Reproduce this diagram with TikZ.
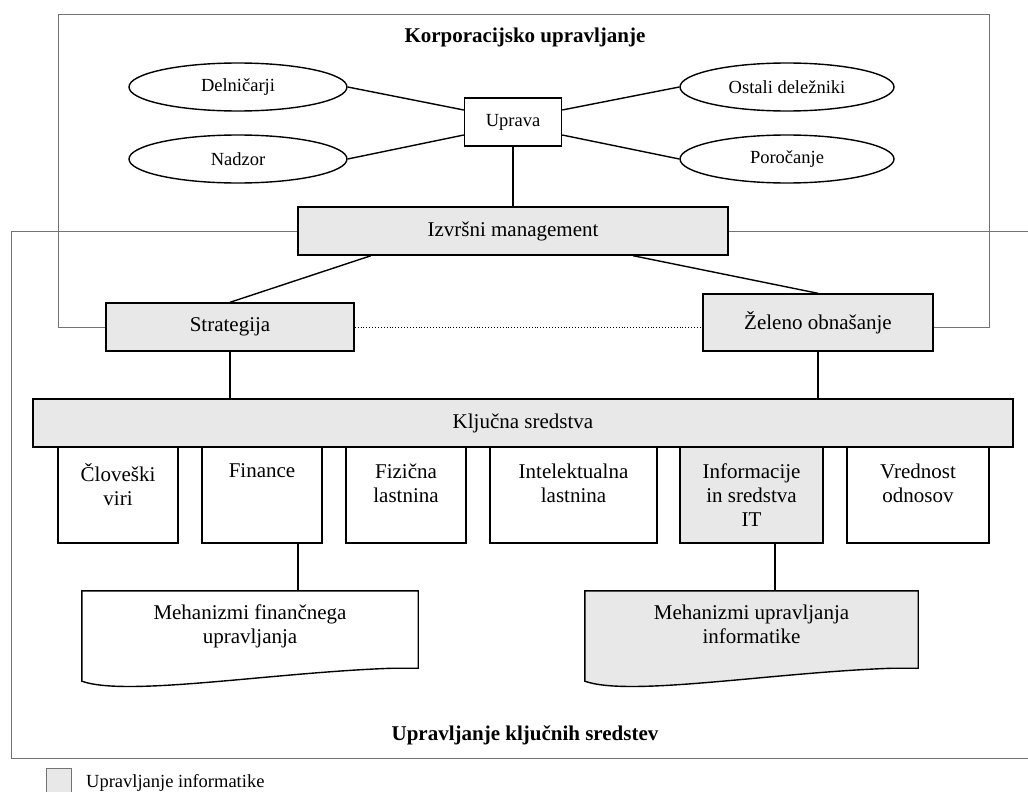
\documentclass[tikz,border=0pt]{standalone}
\usepackage{fontspec}
\setmainfont{Liberation Serif}
\usetikzlibrary{shapes,positioning,calc}
\definecolor{govgray}{RGB}{232,232,232}
\definecolor{framegray}{RGB}{115,115,115}

\newcommand{\smalltxt}{\fontsize{18.5}{22}\selectfont}
\newcommand{\bigtxt}{\fontsize{21}{24}\selectfont}

\begin{document}
\begin{tikzpicture}[x=1pt, y=-1pt,
    box/.style={draw, line width=1.4pt, rectangle, inner sep=0pt, font=\bigtxt},
    gbox/.style={box, fill=govgray},
    wbox/.style={draw, line width=1.4pt, fill=white, minimum width=97pt,
                 minimum height=48pt, inner sep=0pt, font=\smalltxt},
    oval/.style={draw, line width=1.4pt, ellipse, minimum width=218pt,
                 minimum height=48pt, inner sep=0pt, font=\smalltxt},
    asset/.style={box, minimum width=120pt, minimum height=96pt},
    assettxt/.style={font=\bigtxt, align=center, anchor=north, inner sep=0pt},
    docbox/.style={minimum width=336pt, minimum height=77pt, inner sep=0pt},
    doc/.style={line width=1.4pt},
    link/.style={line width=1.4pt},
    frame/.style={draw=framegray, line width=1pt},
    title/.style={font=\bigtxt\bfseries},
]
\useasboundingbox (0,0) rectangle (1028,792);

% corporate governance
\node[title] (kutitle) at (525,37) {Korporacijsko upravljanje};
\node[wbox] (upr) at (513,122) {Uprava};
\node[oval] (deln) at (238,87) {Delničarji};
\node[oval] (nadz) at (238,159) {Nadzor};
\node[oval, minimum width=214pt] (ostali) at (787,87) {Ostali deležniki};
\node[oval, minimum width=214pt] (poroc) at (787,159) {Poročanje};

\node[gbox, minimum width=430pt, minimum height=48pt] (izv) at (513,231)
    {Izvršni management};
\node[gbox, minimum width=248pt, minimum height=48pt] (strat) at (230,327)
    {Strategija};
\node[gbox, minimum width=230pt, minimum height=57pt] (zel) at (818,322.5)
    {Želeno obnašanje};
\node[gbox, minimum width=980pt, minimum height=48pt] (kljuc) at (523,423)
    {Ključna sredstva};

% key assets
\node[asset] (hr) at (118,495) {};
\node[asset] (fin) at (262,495) {};
\node[asset] (phys) at (406,495) {};
\node[asset, minimum width=167pt] (intel) at (573.5,495) {};
\node[asset, fill=govgray, minimum width=143pt] (info) at (751.5,495) {};
\node[asset, minimum width=142pt] (rel) at (918,495) {};

\node[assettxt] (hrtxt) at ([yshift=-17pt]hr.north) {Človeški\\viri};
\node[assettxt] (fintxt) at ([yshift=-17pt]fin.north) {Finance};
\node[assettxt] (phystxt) at ([yshift=-17pt]phys.north) {Fizična\\lastnina};
\node[assettxt] (inteltxt) at ([yshift=-17pt]intel.north) {Intelektualna\\lastnina};
\node[assettxt] (infotxt) at ([yshift=-17pt]info.north) {Informacije\\in sredstva\\IT};
\node[assettxt] (reltxt) at ([yshift=-17pt]rel.north) {Vrednost\\odnosov};

% mechanisms
\node[docbox] (finmeh) at (250,629.5) {};
\node[docbox, minimum width=333pt] (infmeh) at (751.5,629.5) {};
\draw[doc] (finmeh.south east) -- (finmeh.north east) -- (finmeh.north west)
    -- ([yshift=-13pt]finmeh.south west) .. controls +(45,16) and +(-120,4)
    .. ([xshift=-25pt]finmeh.south east) -- cycle;
\filldraw[doc, fill=govgray] (infmeh.south east) -- (infmeh.north east)
    -- (infmeh.north west) -- ([yshift=-13pt]infmeh.south west)
    .. controls +(45,16) and +(-120,4) .. ([xshift=-25pt]infmeh.south east) -- cycle;
\node[assettxt] (finmehtxt) at ([yshift=-14pt]finmeh.north)
    {Mehanizmi finančnega\\upravljanja};
\node[assettxt] (infmehtxt) at ([yshift=-14pt]infmeh.north)
    {Mehanizmi upravljanja\\informatike};

% connectors
\draw[link] ([yshift=12pt]upr.west) -- (deln.east);
\draw[link] ([yshift=-13pt]upr.west) -- (nadz.east);
\draw[link] ([yshift=12pt]upr.east) -- (ostali.west);
\draw[link] ([yshift=-13pt]upr.east) -- (poroc.west);
\draw[link] (upr.south) -- (izv.north);
\draw[link] ([xshift=-142pt]izv.south) -- (strat.north);
\draw[link] ([xshift=120pt]izv.south) -- (zel.north);
\draw[dotted, line width=0.9pt] (strat.east) -- (strat.east -| zel.west);
\draw[link] (strat.south) -- (strat.south |- kljuc.north);
\draw[link] (zel.south) -- (zel.south |- kljuc.north);
\draw[link] ([xshift=36pt]fin.south) -- ([xshift=36pt]fin.south |- finmeh.north);
\draw[link] ([xshift=23.5pt]info.south) -- ([xshift=23.5pt]info.south |- infmeh.north);

% frames
\draw[frame] (strat.west) -| (58,15) -| (989,327) -- (zel.east |- strat.east);
\draw[frame] (izv.west) -| (11,758) -- (1028,758);
\draw[frame] (izv.east) -- (1028,231);
\node[title] (uktitle) at (525,735) {Upravljanje ključnih sredstev};

% legend
\node[draw=framegray, fill=govgray, minimum width=25pt, minimum height=32pt,
      inner sep=0pt] (legbox) at (58.5,784) {};
\node[font=\smalltxt, anchor=west, inner sep=0pt] (legtxt) at (86,783)
    {Upravljanje informatike};
\end{tikzpicture}
\end{document}
